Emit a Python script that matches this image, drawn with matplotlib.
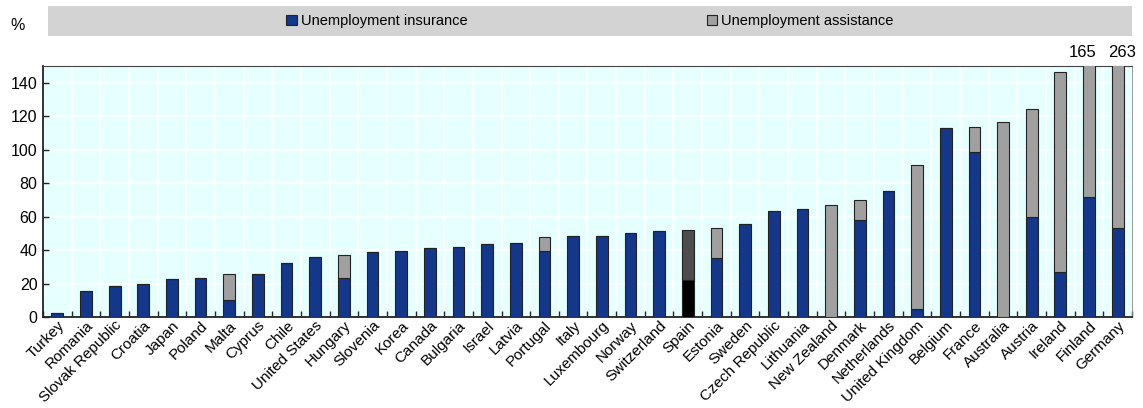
import numpy as np
import matplotlib.pyplot as plt
import matplotlib.transforms as mtransforms
from matplotlib.patches import Patch
from matplotlib.ticker import FixedLocator

plt.rcParams['font.family'] = ['Liberation Sans', 'DejaVu Sans']

countries = ['Turkey', 'Romania', 'Slovak Republic', 'Croatia', 'Japan', 'Poland', 'Malta',
             'Cyprus', 'Chile', 'United States', 'Hungary', 'Slovenia', 'Korea', 'Canada',
             'Bulgaria', 'Israel', 'Latvia', 'Portugal', 'Italy', 'Luxembourg', 'Norway',
             'Switzerland', 'Spain', 'Estonia', 'Sweden', 'Czech Republic', 'Lithuania',
             'New Zealand', 'Denmark', 'Netherlands', 'United Kingdom', 'Belgium', 'France',
             'Australia', 'Austria', 'Ireland', 'Finland', 'Germany']

# unemployment insurance share
insurance = [2.6, 15.7, 18.7, 19.7, 22.7, 23.5, 10.2, 25.9, 32.3, 36.0, 23.1, 38.7, 39.4, 41.4,
             42.0, 43.6, 44.4, 39.4, 48.6, 48.6, 50.2, 51.2, 21.9, 35.3, 55.6, 63.4, 64.4,
             0.0, 58.0, 75.3, 4.6, 112.8, 98.4, 0.0, 59.6, 26.7, 71.5, 53.0]
# unemployment assistance share
assistance = [0.0, 0.0, 0.0, 0.0, 0.0, 0.0, 15.7, 0.0, 0.0, 0.0, 13.9, 0.0, 0.0, 0.0,
              0.0, 0.0, 0.0, 8.2, 0.0, 0.0, 0.0, 0.0, 30.1, 17.9, 0.0, 0.0, 0.0,
              67.1, 12.0, 0.0, 86.3, 0.0, 15.0, 116.6, 65.0, 119.9, 93.5, 210.0]
totals = np.array(insurance) + np.array(assistance)

blue = '#14378a'
grey = '#a0a0a0'
highlight = 'Spain'

ins_colors = ['#000000' if c == highlight else blue for c in countries]
ass_colors = ['#4d4d4d' if c == highlight else grey for c in countries]

fig = plt.figure(figsize=(11.43, 4.08), dpi=100)
ax = fig.add_axes([43 / 1143, 1 - 317 / 408, (1132 - 43) / 1143, (317 - 66) / 408])
ax.set_facecolor('#e6ffff')

x = np.arange(len(countries))
w = 0.41
ax.bar(x, insurance, w, color=ins_colors, edgecolor='#222222', linewidth=0.8, zorder=3)
ax.bar(x, assistance, w, bottom=insurance, color=ass_colors, edgecolor='#222222',
       linewidth=0.8, zorder=3)

ymax = 150
ax.set_ylim(0, ymax)
ax.set_xlim(-0.5, len(countries) - 0.5)
ax.set_yticks(np.arange(0, 141, 20))

# values for bars cut off at the top (nudged apart so they do not touch)
cut = [i for i, t in enumerate(totals) if t > ymax]
for k, i in enumerate(cut):
    dx = -6 if k < len(cut) - 1 else 4
    ax.annotate(f'{totals[i]:.0f}', (i, ymax), xytext=(dx, 6), textcoords='offset pixels',
                ha='center', va='bottom', fontsize=12, annotation_clip=False)

ax.set_xticks(x)
ax.set_xticklabels(countries, rotation=45, ha='right', va='top', rotation_mode='anchor',
                   fontsize=11)
shift = mtransforms.ScaledTranslation(6 / 100, 0, fig.dpi_scale_trans)
for lab in ax.get_xticklabels():
    lab.set_transform(lab.get_transform() + shift)
ax.xaxis.set_minor_locator(FixedLocator(np.arange(-0.5, len(countries), 1)))
ax.tick_params(axis='x', which='major', length=0, pad=1)
ax.tick_params(axis='x', which='minor', direction='in', length=4, width=1, color='#222222')
ax.tick_params(axis='y', direction='in', length=4, width=1, labelsize=11.5, color='#222222',
               pad=4)

ax.grid(True, axis='y', color='white', linewidth=1.2, zorder=0)
ax.grid(True, axis='x', which='minor', color='white', linewidth=1.2, zorder=0)
ax.set_axisbelow(True)

for side in ['left', 'bottom']:
    ax.spines[side].set_color('#222222')
    ax.spines[side].set_linewidth(1.3)
ax.spines['top'].set_color('#444444')
ax.spines['right'].set_color('#888888')
ax.spines['right'].set_linewidth(0.6)

fig.text(18 / 1143, 1 - 25 / 408, '%', ha='center', va='center', fontsize=11.5)

# legend band
band = fig.add_axes([48 / 1143, 1 - 36 / 408, (1132 - 48) / 1143, 30 / 408])
band.set_facecolor('#d3d3d3')
band.set_xticks([])
band.set_yticks([])
for s in band.spines.values():
    s.set_visible(False)
handles = [Patch(facecolor=blue, edgecolor='#222222', linewidth=0.8, label='Unemployment insurance'),
           Patch(facecolor=grey, edgecolor='#222222', linewidth=0.8, label='Unemployment assistance')]
band.legend(handles=handles, loc='center', ncol=2, frameon=False, fontsize=10.5,
            handlelength=0.7, handleheight=0.7, handletextpad=0.3, columnspacing=16.4,
            borderaxespad=0)

fig.savefig('out.png', dpi=100)
